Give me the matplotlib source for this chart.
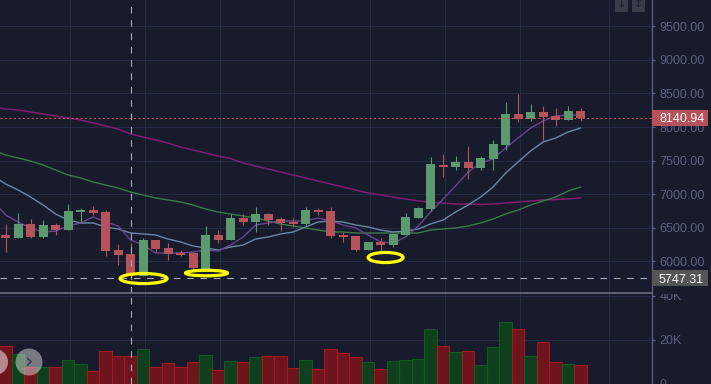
import matplotlib
matplotlib.use('Agg')
import matplotlib.pyplot as plt
from matplotlib.patches import Ellipse, Rectangle, Circle
from matplotlib.transforms import blended_transform_factory

# === DATA ===
opens = [6393, 6348, 6557, 6363, 6542, 6467, 6735, 6765, 6735, 6170, 6110, 5783, 6319, 6200, 6125, 6125,
         5887, 6393, 6319, 6646, 6586, 6705, 6631, 6586, 6557, 6765, 6750, 6393, 6378, 6170, 6289, 6244,
         6393, 6646, 6780, 7435, 7405, 7479, 7390, 7524, 7732, 8193, 8119, 8223, 8164, 8104, 8238]
highs = [6557, 6720, 6631, 6616, 6572, 6854, 6795, 6825, 6765, 6259, 6274, 6348, 6319, 6274, 6170, 6140,
         6527, 6467, 6705, 6705, 6810, 6720, 6661, 6646, 6810, 6795, 6810, 6438, 6378, 6289, 6348, 6408,
         6720, 6810, 7554, 7598, 7568, 7717, 7568, 7807, 8372, 8491, 8342, 8312, 8283, 8312, 8283]
lows = [6140, 6348, 6348, 6348, 6393, 6467, 6572, 6691, 6080, 5947, 5783, 5783, 6140, 6021, 6080, 5872,
        5887, 6274, 6319, 6542, 6438, 6542, 6452, 6512, 6527, 6691, 6348, 6289, 6155, 6170, 6155, 6214,
        6393, 6646, 6750, 7256, 7360, 7226, 7360, 7360, 7658, 8074, 8089, 7807, 8015, 8104, 8089]
closes = [6348, 6557, 6363, 6542, 6467, 6750, 6765, 6720, 6155, 6095, 5813, 6319, 6185, 6110, 6095, 5902,
          6393, 6319, 6646, 6586, 6705, 6616, 6572, 6557, 6765, 6735, 6378, 6363, 6170, 6289, 6244, 6408,
          6661, 6795, 7449, 7405, 7479, 7390, 7539, 7747, 8193, 8119, 8223, 8149, 8104, 8238, 8134]
volumes = [17.5, 13.8, 7.8, 7.8, 7.8, 11, 9.2, 6, 15.2, 12.9, 12.9, 15.7, 7.8, 9.7, 7.8, 10.1,
           13.4, 6.5, 10.6, 10.1, 12.4, 12.9, 12.9, 7.4, 11, 6.9, 15.7, 14.3, 12.4, 10.1, 6.9, 10.6,
           11, 11.5, 24.9, 17.5, 14.7, 15.2, 8.8, 17, 28.1, 24.9, 12.9, 18.9, 10.1, 9.2, 8.8]

# moving averages start one candle before the first visible candle
ma_fast = [6899, 6691, 6586, 6497, 6438, 6452, 6527, 6572, 6661, 6586, 6527, 6319, 6244, 6125, 6125, 6125, 6140,
           6170, 6155, 6244, 6363, 6542, 6572, 6601, 6601, 6601, 6646, 6601, 6542, 6497, 6393, 6289, 6274,
           6363, 6527, 6735, 6929, 7122, 7330, 7464, 7524, 7688, 7836, 7985, 8089, 8164, 8179, 8179]
ma_mid = [7271, 7152, 7063, 6958, 6839, 6705, 6616, 6572, 6572, 6512, 6482, 6423, 6408, 6393, 6333, 6289, 6229,
          6200, 6170, 6214, 6244, 6333, 6363, 6408, 6438, 6512, 6586, 6601, 6586, 6542, 6512, 6467, 6438,
          6452, 6482, 6557, 6616, 6735, 6839, 6958, 7107, 7315, 7479, 7643, 7777, 7836, 7926, 7985]
ma_slow = [7658, 7583, 7539, 7494, 7435, 7360, 7286, 7241, 7182, 7137, 7092, 7033, 6988, 6944, 6914, 6884, 6839,
           6780, 6735, 6705, 6676, 6646, 6601, 6557, 6527, 6497, 6467, 6438, 6438, 6423, 6423, 6423, 6423,
           6423, 6423, 6467, 6482, 6497, 6527, 6572, 6631, 6705, 6765, 6839, 6899, 6958, 7048, 7107]
ma_long = [8298, 8268, 8253, 8223, 8193, 8164, 8134, 8104, 8060, 8015, 7970, 7896, 7851, 7807, 7762, 7702, 7658,
           7613, 7568, 7531, 7464, 7420, 7375, 7330, 7286, 7241, 7196, 7152, 7107, 7063, 7018, 6988, 6958,
           6929, 6899, 6884, 6869, 6854, 6854, 6847, 6854, 6869, 6884, 6899, 6914, 6921, 6929, 6944]

price_ticks = [6000, 6500, 7000, 7500, 8000, 8500, 9000, 9500]
volume_ticks = [0, 20, 40]
volume_labels = ['0', '20K', '40K']
grid_idx = [5.12, 11.12, 17.12, 23.08, 29.16, 35.16, 41.16, 48.24]
last_price = 8140.94
low_price = 5747.31
crosshair_idx = 10.05

# === COLORS ===
BG = '#171b2b'
GRID = '#222a45'
AXIS = '#5f6488'
LABEL = '#5d6182'
UP = '#5b9a6e'
DOWN = '#b45359'

plt.rcParams['font.family'] = ['Liberation Sans', 'DejaVu Sans']

W, H = 711, 384
AX_W = 652
SPLIT = 293

fig = plt.figure(figsize=(W / 100, H / 100), dpi=100, facecolor=BG)
ax = fig.add_axes([0, (H - SPLIT) / H, AX_W / W, SPLIT / H], facecolor=BG)
vol = fig.add_axes([0, 0, AX_W / W, (H - SPLIT) / H], facecolor=BG)

xlim = (-5.6 / 12.5, (AX_W - 5.6) / 12.5)
idx = list(range(len(opens)))
ma_idx = [i - 1 for i in range(len(ma_fast))]

# === PRICE PANEL ===
for g in grid_idx:
    ax.axvline(g, color=GRID, lw=0.8, zorder=1)
    vol.axvline(g, color=GRID, lw=0.8, zorder=1)
for p in price_ticks:
    ax.axhline(p, color=GRID, lw=0.8, zorder=1)

ax.plot(ma_idx, ma_long, color='#7d1f70', lw=1.1, zorder=2)
ax.plot(ma_idx, ma_slow, color='#3c7a4b', lw=1.0, zorder=2)
ax.plot(ma_idx, ma_mid, color='#6c88a8', lw=1.0, zorder=2)
ax.plot(ma_idx, ma_fast, color='#67458f', lw=1.0, zorder=2)

colors = [UP if c >= o else DOWN for o, c in zip(opens, closes)]
ax.vlines(idx, lows, highs, colors=colors, lw=0.8, zorder=3)
ax.bar(idx, [abs(c - o) for o, c in zip(opens, closes)], bottom=[min(o, c) for o, c in zip(opens, closes)],
       width=0.72, color=colors, linewidth=0, zorder=3)

ax.axhline(last_price, color=DOWN, lw=0.8, ls=(0, (2, 2)), zorder=4)
ax.axhline(low_price, color='#a8abb8', lw=0.8, ls=(0, (6, 6)), zorder=4)
ax.axvline(crosshair_idx, color='#a8abb8', lw=0.8, ls=(0, (6, 6)), zorder=4)

# hand drawn yellow circles
for cx, cy, w, h in [(11.04, 5745, 3.76, 150), (16.07, 5827, 3.36, 82), (30.4, 6058, 2.8, 150)]:
    ax.add_patch(Ellipse((cx, cy), w, h, fill=False, edgecolor='#ffff00', lw=2.3, zorder=5))

ax.set_xlim(xlim)
ax.set_ylim(8000 + 14.88 * (127 - SPLIT), 8000 + 14.88 * 127)
ax.set_xticks([])
ax.yaxis.tick_right()
ax.set_yticks(price_ticks)
ax.set_yticklabels([f'{p:.2f}' for p in price_ticks])

# === VOLUME PANEL ===
for v in volume_ticks[1:]:
    vol.axhline(v, color=GRID, lw=0.8, zorder=1)
fill = [(0.06, 0.27, 0.11, 0.9) if c == UP else (0.47, 0.08, 0.11, 0.9) for c in colors]
edge = ['#12591f' if c == UP else '#a01a20' for c in colors]
vol.bar(idx, volumes, width=1.0, color=fill, edgecolor=edge, linewidth=0.8, zorder=2)
vol.axvline(crosshair_idx, color='#a8abb8', lw=0.8, ls=(0, (6, 6)), zorder=4)
vol.set_xlim(xlim)
vol.set_ylim(0, (H - SPLIT) / 2.2)
vol.set_xticks([])
vol.yaxis.tick_right()
vol.set_yticks(volume_ticks)
vol.set_yticklabels(volume_labels)

for a in (ax, vol):
    for s in ('left', 'top', 'bottom'):
        a.spines[s].set_visible(False)
    a.spines['right'].set_color(AXIS)
    a.spines['right'].set_linewidth(0.9)
    a.tick_params(axis='y', length=2.2, width=0.8, color=AXIS, labelcolor=LABEL, labelsize=9, pad=3)

# separator between the panels
vol.spines['top'].set_visible(True)
vol.spines['top'].set_color('#6a6d85')
vol.spines['top'].set_linewidth(1.2)
for lab in vol.get_yticklabels():
    lab.set_clip_on(True)
    lab.set_clip_box(matplotlib.transforms.Bbox([[AX_W, 0], [W, H - SPLIT - 1]]))

# === PRICE TAGS ===
tr = blended_transform_factory(ax.transAxes, ax.transData)
for price, col in [(last_price, DOWN), (low_price, '#555558')]:
    ax.add_patch(Rectangle((1, price - 119), 56 / AX_W, 238, transform=tr, facecolor=col, edgecolor='none',
                           clip_on=False, zorder=6))
    ax.text(1 + 7 / AX_W, price, f'{price:.2f}', transform=tr, color='white', fontsize=9, va='center_baseline',
            ha='left', clip_on=False, zorder=7)

# === UI BITS ON TOP ===
ui = fig.add_axes([0, 0, 1, 1], facecolor='none')
ui.set_xlim(0, W)
ui.set_ylim(H, 0)
ui.axis('off')
ui.add_patch(Rectangle((615, -1), 13, 13, facecolor='#3a3d4a', edgecolor='none'))
ui.add_patch(Rectangle((632, -1), 13, 13, facecolor='#3a3d4a', edgecolor='none'))
ui.text(621.5, 4, '↓', color='#1c1f2b', fontsize=8, ha='center', va='center', family='DejaVu Sans')
ui.text(638.5, 4, '↕', color='#1c1f2b', fontsize=8, ha='center', va='center', family='DejaVu Sans')
ui.add_patch(Circle((-5, 362), 13, facecolor=(1, 1, 1, 0.5), edgecolor='none'))
ui.add_patch(Circle((29, 362), 13.5, facecolor=(1, 1, 1, 0.42), edgecolor='none'))
ui.text(29.5, 361, '›', color='#3a3d4a', fontsize=15, ha='center', va='center', family='DejaVu Sans')

fig.savefig('out.png', dpi=100, facecolor=BG)
